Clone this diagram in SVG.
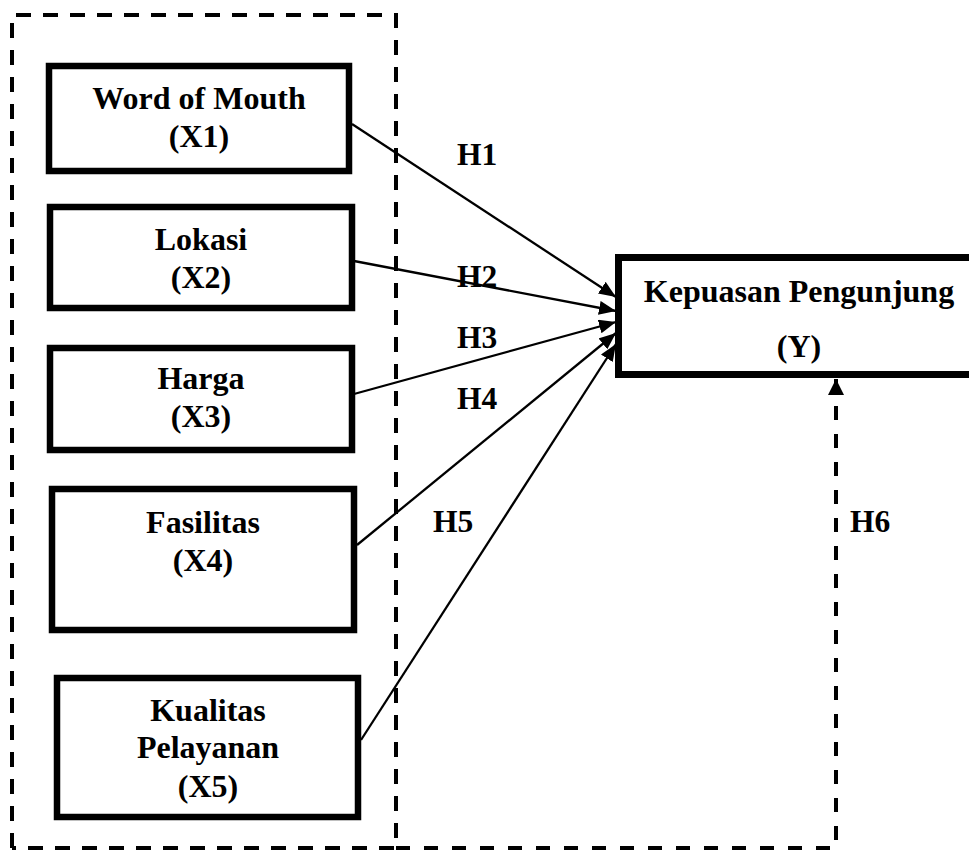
<svg xmlns="http://www.w3.org/2000/svg" width="969" height="850" viewBox="0 0 969 850">
<defs>
<style>
.box{fill:#fff;stroke:#000;stroke-width:6.5}
.t{font-family:"Liberation Serif","Times New Roman",serif;font-weight:bold;font-size:32px;fill:#000;text-anchor:middle}
.lbl{font-family:"Liberation Serif","Times New Roman",serif;font-weight:bold;font-size:31.5px;fill:#000}
.arr{fill:none;stroke:#000;stroke-width:2.3}
.dash{fill:none;stroke:#000;stroke-width:4;stroke-dasharray:15 12}
</style>
<marker id="ah" markerUnits="userSpaceOnUse" markerWidth="20" markerHeight="16" refX="17" refY="7" orient="auto">
<path d="M0,0 L17,7 L0,14 Z" fill="#000"/>
</marker>
<marker id="ah6" markerUnits="userSpaceOnUse" markerWidth="20" markerHeight="18" refX="16" refY="8" orient="auto">
<path d="M0,0 L16,8 L0,16 Z" fill="#000"/>
</marker>
</defs>
<rect width="969" height="850" fill="#fff"/>
<g id="group-border">
<path class="dash" d="M12,848 V15 H396 V848 H12"/>
</g>
<g id="connectors">
<line class="arr" x1="352" y1="124" x2="616" y2="297" marker-end="url(#ah)"/>
<line class="arr" x1="354" y1="261" x2="616" y2="311" marker-end="url(#ah)"/>
<line class="arr" x1="354" y1="394" x2="616" y2="322" marker-end="url(#ah)"/>
<line class="arr" x1="357" y1="545" x2="616" y2="333" marker-end="url(#ah)"/>
<line class="arr" x1="361" y1="740" x2="616" y2="344" marker-end="url(#ah)"/>
<path d="M396,848 H836 V379" fill="none" stroke="#000" stroke-width="4" stroke-dasharray="14 14" marker-end="url(#ah6)"/>
</g>
<g id="labels">
<text class="lbl" x="457" y="165">H1</text>
<text class="lbl" x="457" y="287">H2</text>
<text class="lbl" x="457" y="348">H3</text>
<text class="lbl" x="457" y="409">H4</text>
<text class="lbl" x="433" y="532">H5</text>
<text class="lbl" x="850" y="532">H6</text>
</g>
<g id="node-x1">
<rect class="box" x="49" y="66" width="300" height="105"/>
<text class="t" x="199" y="109">Word of Mouth</text>
<text class="t" x="199" y="147">(X1)</text>
</g>
<g id="node-x2">
<rect class="box" x="50" y="207" width="302" height="101"/>
<text class="t" x="201" y="250">Lokasi</text>
<text class="t" x="201" y="288">(X2)</text>
</g>
<g id="node-x3">
<rect class="box" x="50" y="348" width="302" height="102"/>
<text class="t" x="201" y="389">Harga</text>
<text class="t" x="201" y="427">(X3)</text>
</g>
<g id="node-x4">
<rect class="box" x="52" y="489" width="302" height="141"/>
<text class="t" x="203" y="533">Fasilitas</text>
<text class="t" x="203" y="571">(X4)</text>
</g>
<g id="node-x5">
<rect class="box" x="57" y="678" width="301" height="139"/>
<text class="t" x="208" y="721">Kualitas</text>
<text class="t" x="208" y="758">Pelayanan</text>
<text class="t" x="208" y="797">(X5)</text>
</g>
<g id="node-y">
<rect x="618.5" y="257.5" width="400" height="117" fill="#fff" stroke="#000" stroke-width="7"/>
<text class="t" x="799" y="302">Kepuasan Pengunjung</text>
<text class="t" x="799" y="357">(Y)</text>
</g>
</svg>
